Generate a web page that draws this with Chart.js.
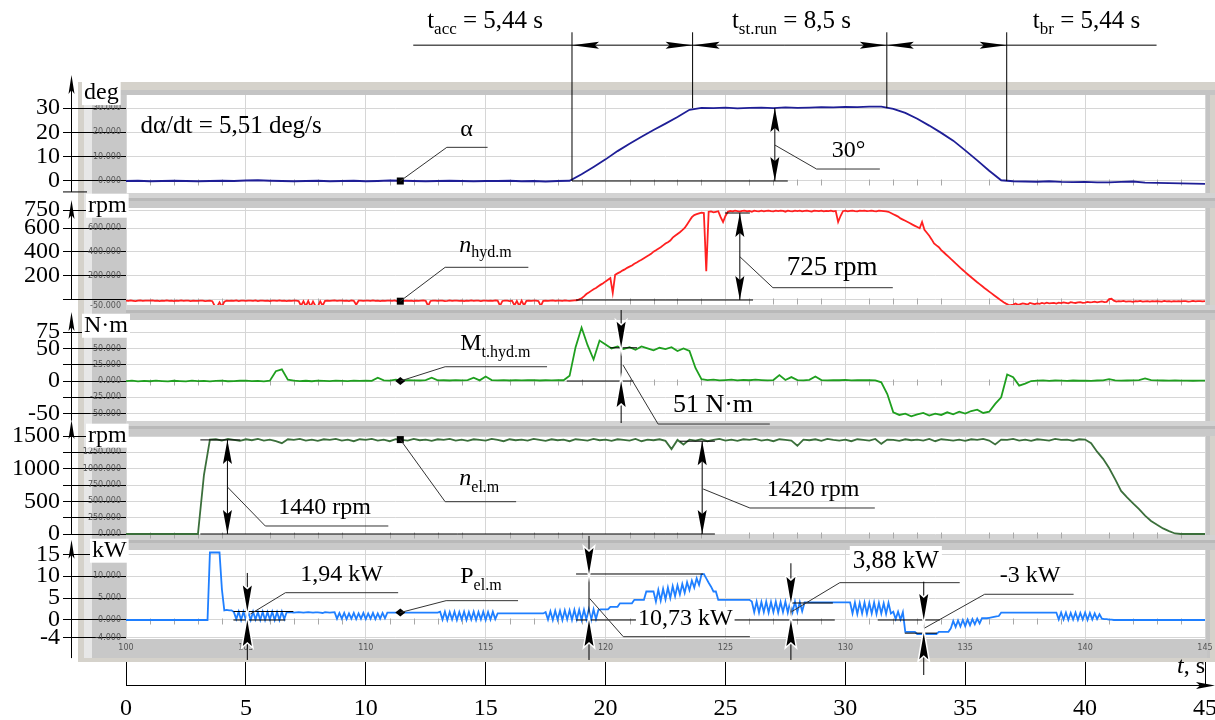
<!DOCTYPE html>
<html>
<head>
<meta charset="utf-8">
<script src="https://cdn.jsdelivr.net/npm/chart.js@4.4.1/dist/chart.umd.min.js"></script>
<style>
  html, body { margin: 0; padding: 0; background: #fff; }
  canvas { display: block; }
  .preload { position: absolute; left: -999px; top: 0; font-family: "Liberation Serif"; }
</style>
</head>
<body>
<span class="preload">0 <i>n</i></span>
<canvas id="chart" width="1215" height="720"></canvas>
<script>
const SERIF = '"Liberation Serif", "Times New Roman", serif';

// time axis
const xTicks = [0, 5, 10, 15, 20, 25, 30, 35, 40, 45];
const innerXLabels = ['100', '105', '110', '115', '120', '125', '130', '135', '140', '145'];

// alpha, deg, every 0.5 s
const alphaStep = 0.5;
const alphaVals = [
  0, 0.1, -0.1, 0, 0.1, 0, -0.1, 0, 0.1, 0,
  0.2, 0.3, 0.1, 0, -0.1, 0, 0.1, -0.1, 0, 0.1,
  -0.1, 0, 0.2, 0.1, 0, -0.1, 0, 0.1, 0, -0.1,
  0, 0, 0.1, -0.1, 0, -0.2, 0, 0.1, 2.8, 5.8,
  8.9, 12.3, 15.3, 18.2, 21.0, 23.6, 26.3, 29.3, 30.1, 30.0,
  30.2, 29.9, 30.1, 30.2, 30.0, 30.3, 30.1, 30.2, 30.4, 30.3,
  30.5, 30.4, 30.6, 30.6, 29.7, 28.0, 25.6, 22.8, 19.8, 16.6,
  12.6, 8.5, 4.2, 0.3, -0.1, -0.2, -0.3, -0.1, -0.4, -0.5,
  -0.4, -0.6, -0.6, -0.4, -0.2, -0.7, -0.8, -0.9, -1.0, -1.1,
  -1.2
];

// n hyd.m, rpm, every 0.1 s (one line per second)
const hydStep = 0.1;
const hydVals = [
  -5, -8, -4, -7, -10, -6, -3, -8, -5, -6,
  -6, -3, -8, -6, -9, -5, -7, -4, -8, -6,
  -9, -5, -7, -4, -8, -6, -5, -9, -6, -7,
  -8, -6, -5, -9, -7, -6, -10, -50, -56, -20,
  -55, -15, -6, -8, -5, -7, -4, -9, -6, -5,
  -8, -6, -5, -7, -4, -9, -6, -5, -8, -6,
  -10, -6, -5, -8, -4, -7, -6, -9, -5, -8,
  -6, -5, -9, -48, -10, -52, -8, -55, -12, -50,
  -55, -10, -48, -7, -5, -8, -6, -4, -7, -6,
  -5, -8, -6, -9, -4, -7, -40, -6, -5, -8,
  -6, -5, -8, -4, -7, -6, -9, -5, -8, -6,
  -5, -7, -4, -9, -25, -6, -8, -5, -7, -6,
  -9, -5, -8, -6, -4, -7, -50, -8, -5, -6,
  -8, -6, -5, -9, -7, -4, -8, -6, -5, -7,
  -6, -9, -5, -8, -4, -7, -6, -5, -9, -6,
  -5, -8, -6, -7, -4, -6, -48, -8, -5, -6,
  -9, -6, -45, -8, -50, -5, -46, -7, -6, -8,
  -5, -6, -9, -50, -7, -5, -8, -6, -4, -7,
  -6, -5, -8, -4, -6, -7, -5, -3, -2, 5,
  15, 30, 50, 62, 76, 90, 100, 115, 128, 140,
  155, 168, 182, 60, 210, 222, 232, 245, 255, 268,
  278, 288, 302, 312, 325, 335, 348, 360, 372, 385,
  403, 415, 428, 440, 455, 470, 482, 496, 520, 535,
  550, 565, 582, 600, 630, 660, 690, 708, 715, 722,
  728, 725, 240, 735, 738, 730, 735, 740, 690, 650,
  700, 735, 742, 738, 745, 740, 736, 742, 745, 738,
  742, 735, 745, 740, 738, 744, 739, 742, 745, 740,
  738, 744, 740, 745, 742, 736, 745, 740, 738, 744,
  740, 745, 738, 742, 745, 740, 736, 744, 742, 740,
  745, 738, 742, 740, 745, 738, 742, 650, 700, 740,
  744, 738, 742, 745, 740, 738, 744, 742, 745, 740,
  742, 745, 740, 738, 744, 742, 740, 738, 735, 725,
  715, 705, 695, 680, 670, 660, 650, 640, 628, 618,
  608, 598, 650, 585, 560, 535, 505, 472, 455, 440,
  416, 398, 379, 361, 342, 324, 305, 287, 268, 250,
  232, 215, 198, 181, 165, 148, 132, 116, 100, 85,
  70, 55, 40, 25, 10, -5, -18, -30, -40, -42,
  -38, -30, -40, -35, -28, -32, -38, -25, -30, -35,
  -28, -32, -25, -30, -22, -28, -26, -24, -30, -22,
  -26, -20, -24, -28, -18, -22, -25, -20, -18, -24,
  -22, -16, -20, -18, -14, -20, -16, -12, -18, -15,
  8, 10, -5, -14, -10, -12, -8, -14, -11, -12,
  -15, -10, -12, -8, -14, -11, -9, -13, -10, -12,
  -9, -11, -13, -8, -12, -10, -14, -9, -11, -10,
  -12, -10, -9, -13, -11, -8, -12, -10, -9, -12,
  -10
];

// M t.hyd.m, N*m, every 0.25 s (one line ~ 4 s)
const torqueStep = 0.25;
const torqueVals = [
  0, 0.5, -0.5, 0.3,   -0.3, 0.5, 0, -0.5,  0.4, 0, -0.4, 0.5,  0, 0.3, -0.5, 0.2,
  0.5, -0.3, 0, 0.4,   0.6, 0, 0.3, -0.4,   0.5, 15, 18, 2,     0.5, 0, 0.4, -0.3,
  0.5, 0.2, -0.2, 0.6, 0.3, 0, 0.5, 0.2,    0.6, 0.3, 5, 1,     0.5, 2, 0.8, 1.5,
  1, 0.8, 1.5, 5,      1, 1.2, 0.8, 1.5,    1, 1.4, 5, 1,       7, 1.5, 1, 1.3,
  0.8, 1.5, 1, 1.2,    1.5, 0.8, 1.2, 1,    1.4, 1.2, 8, 52,    82, 55, 33, 62,
  56, 50, 53, 49,      52, 48, 53, 50,      47, 51, 49, 52,     46, 50, 46, 20,
  3, 1.5, 2, 1,        1.5, 2, 1, 1.8,      1.2, 2, 1.5, 1,     1.5, 9, 1.5, 6,
  1.5, 1, 1.8, 7,      1.5, 1, 1.5, 1.2,    1.8, 1, 1.5, 1.2,   1.5, 1, -2, -20,
  -48, -52, -50, -54,  -51, -49, -53, -50,  -52, -48, -51, -47, -50, -46, -44, -49,
  -47, -35, -25, 10,   6, -7, -4, 0,        0.5, 1, 0.3, 0.8,   0.5, 0.2, 0.8, 0.4,
  0.6, 0.3, 0.8, 1,    3, 1, 0.5, 0.8,      1, 1.5, 4, 1.5,     1, 0.8, 0.5, 0.8,
  0.5, 0.7, 0.4, 0.6,
  0.5
];

// n el.m, rpm, every 0.25 s
const motorStep = 0.25;
const motorVals = [
  0, 0, 0, 0,  0, 0, 0, 0,  0, 0, 0, 0,  0, 900, 1445, 1450,
  1430, 1455, 1440, 1425, 1450, 1435, 1455, 1430, 1445, 1420, 1390, 1450, 1440, 1455, 1430, 1445,
  1425, 1450, 1440, 1455, 1430, 1445, 1420, 1450, 1440, 1455, 1430, 1445, 1420, 1450, 1440, 1430,
  1455, 1435, 1445, 1425, 1450, 1440, 1455, 1430, 1445, 1425, 1450, 1440, 1430, 1455, 1440, 1420,
  1450, 1435, 1445, 1430, 1455, 1440, 1425, 1450, 1435, 1445, 1420, 1450, 1440, 1430, 1455, 1435,
  1445, 1425, 1450, 1440, 1430, 1455, 1420, 1445, 1435, 1450, 1425, 1300, 1440, 1370, 1445, 1430,
  1450, 1420, 1440, 1455, 1430, 1445, 1425, 1450, 1440, 1455, 1430, 1445, 1420, 1450, 1440, 1430,
  1350, 1445, 1435, 1450, 1425, 1455, 1440, 1430, 1445, 1420, 1450, 1440, 1430, 1455, 1380, 1445,
  1440, 1425, 1450, 1435, 1445, 1430, 1455, 1420, 1450, 1440, 1430, 1445, 1425, 1450, 1440, 1455,
  1430, 1370, 1445, 1440, 1455, 1430, 1445, 1425, 1450, 1440, 1430, 1455, 1440, 1445, 1425, 1450,
  1445, 1390, 1260, 1150, 1010, 840, 660, 560, 470, 380, 280, 200, 140, 85, 45, 8,
  0, 0, 0, 0,
  0
];

// P el.m, kW, every 0.1 s (one line per second)
const powerStep = 0.1;
const powerVals = [
  0, 0, 0, 0, 0, 0, 0, 0, 0, 0,
  0, 0, 0, 0, 0, 0, 0, 0, 0, 0,
  0, 0, 0, 0, 0, 0, 0, 0, 0, 0,
  0, 0, 0, 0, 0, 15.4, 15.4, 15.4, 15.4, 15.4,
  7, 2.2, 2.3, 2.2, 2.2, 1.8, 0.2, 1.9, 0, 1.9,
  0, 1.8, 0, 1.9, 0.1, 1.8, 0, 1.9, 0, 1.8,
  0.1, 1.9, 0, 1.8, 0, 1.9, 0.2, 1.75, 1.75, 1.75,
  1.7, 1.75, 1.8, 1.75, 1.7, 1.75, 1.8, 1.75, 1.7, 1.75,
  1.75, 1.7, 1.6, 1.8, 1.75, 1.7, 1.75, 1.8, 0.3, 1.6,
  0.3, 1.6, 0.2, 1.5, 0.3, 1.6, 0.2, 1.5, 0.3, 1.6,
  0.2, 1.5, 0.3, 1.6, 0.2, 1.5, 0.3, 1.6, 0.4, 1.7,
  1.7, 1.7, 1.7, 1.7, 1.7, 1.7, 1.7, 1.7, 1.7, 1.7,
  1.7, 1.7, 1.7, 1.7, 1.7, 1.7, 1.7, 1.7, 1.7, 1.7,
  1.7, 1.9, 0.1, 1.9, 0, 1.8, 0.1, 1.9, 0, 1.8,
  0.1, 1.9, 0, 1.8, 0.1, 1.9, 0, 1.8, 0.1, 1.9,
  0, 1.8, 0.1, 1.9, 0.2, 1.5, 1.5, 1.5, 1.5, 1.5,
  1.5, 1.5, 1.5, 1.5, 1.5, 1.5, 1.5, 1.5, 1.5, 1.5,
  1.5, 1.5, 1.5, 1.5, 1.5, 1.8, 0.1, 2.0, 0, 2.1,
  0.1, 2.1, 0, 2.2, 0.1, 2.2, 0, 2.3, 0.1, 2.3,
  0, 2.3, 0.1, 2.4, 0, 2.4, 0.2, 2.3, 2.4, 2.4,
  2.4, 2.4, 3.0, 3.0, 3.0, 3.0, 3.8, 3.8, 3.8, 3.8,
  3.8, 3.8, 4.6, 4.6, 4.6, 4.6, 4.6, 6.5, 6.5, 6.5,
  6.5, 4.2, 6.9, 4.4, 7.1, 4.7, 7.4, 5.0, 7.7, 5.4,
  7.9, 5.8, 8.2, 6.2, 8.6, 6.8, 9.0, 7.4, 9.5, 8.0,
  10.4, 10.5, 9.5, 8.5, 7.6, 6.5, 6.5, 4.6, 4.6, 4.6,
  4.6, 4.6, 4.6, 4.6, 4.6, 4.6, 4.6, 4.6, 4.6, 4.6,
  4.6, 4.2, 1.8, 4.2, 1.7, 4.1, 1.8, 4.2, 1.7, 4.1,
  1.8, 4.2, 1.7, 4.1, 1.8, 4.2, 1.7, 4.1, 1.8, 4.2,
  1.8, 4.1, 2.0, 4.0, 4.0, 4.0, 4.0, 4.0, 4.0, 4.0,
  4.0, 4.0, 4.0, 4.0, 4.0, 4.0, 4.0, 4.0, 4.0, 4.0,
  4.0, 4.0, 4.0, 1.5, 4.0, 1.4, 3.9, 1.5, 4.0, 1.4,
  3.9, 1.5, 4.0, 1.4, 3.9, 1.5, 3.8, 1.4, 3.9, 1.5,
  1.9, 0.2, 1.9, 0.1, 1.8, -2.7, -2.7, -2.7, -2.7, -2.7,
  -3.2, -3.2, -3.2, -3.2, -3.2, -3.2, -3.2, -3.2, -3.2, -2.7,
  -2.7, -2.7, -2.7, -2.7, -1.9, -0.2, -1.6, -0.1, -1.5, 0,
  -1.4, 0.1, -1.2, 0.2, -1.0, 0.3, -0.8, 0.4, 0.4, 0.4,
  0.5, 0.6, 0.7, 0.8, 0.9, 1.7, 1.7, 1.7, 1.7, 1.7,
  1.7, 1.7, 1.7, 1.7, 1.7, 1.7, 1.7, 1.7, 1.7, 1.7,
  1.7, 1.7, 1.7, 1.7, 1.7, 1.7, 1.7, 1.7, 1.7, 0.1,
  1.7, 0.1, 1.7, 0, 1.6, 0.1, 1.7, 0, 1.6, 0.1,
  1.7, 0, 1.6, 0.1, 1.5, 0.2, 1.3, 0.3, 0.2, 0.2,
  0.1, 0.1, 0, 0, 0, 0, 0, 0, 0, 0,
  0, 0, 0, 0, 0, 0, 0, 0, 0, 0,
  0, 0, 0, 0, 0, 0, 0, 0, 0, 0,
  0, 0, 0, 0, 0, 0, 0, 0, 0, 0,
  0
];

// outer tick values / labelled values per panel
const alphaTicks = [0, 10, 20, 30];
const alphaLabels = [0, 10, 20, 30];
const hydTicks = [0, 200, 400, 600, 750];
const hydLabels = [200, 400, 600, 750];
const torqueTicks = [-50, -25, 0, 25, 50, 75];
const torqueLabels = [-50, 0, 50, 75];
const motorTicks = [0, 250, 500, 750, 1000, 1250, 1500];
const motorLabels = [0, 500, 1000, 1500];
const powerTicks = [-4, 0, 5, 10, 15];
const powerLabels = [-4, 0, 5, 10, 15];

// small grey recorder labels in the frame
const innerY = {
  y1: [30, 20, 10, 0],
  y2: [600, 400, 200, -50],
  y3: [50, 25, 0, -25, -50],
  y4: [1250, 1000, 750, 500, 250, 0],
  y5: [10, 5, 0, -4]
};

function toPoints(vals, step) {
  return vals.map((v, i) => ({ x: Math.round(i * step * 100) / 100, y: v }));
}

const panels = [
  { id: 'y1', min: -4.94, max: 40.74, h: 111, ticks: alphaTicks, labels: alphaLabels },
  { id: 'y2', min: -41.7, max: 891.7, h: 112, ticks: hydTicks, labels: hydLabels },
  { id: 'y3', min: -61.3, max: 116.6, h: 116, ticks: torqueTicks, labels: torqueLabels },
  { id: 'y4', min: -15.3, max: 1729.6, h: 114, ticks: motorTicks, labels: motorLabels },
  { id: 'y5', min: -4.34, max: 19.4, h: 104, ticks: powerTicks, labels: powerLabels }
];

const scales = {
  x: {
    type: 'linear', min: 0, max: 45,
    afterFit: s => { s.height = 81; s.paddingLeft = 0; s.paddingRight = 0; },
    afterBuildTicks: s => { s.ticks = xTicks.map(v => ({ value: v })); },
    grid: { color: '#d6d6d6', tickColor: '#000', tickLength: 46 },
    border: { display: false },
    ticks: {
      autoSkip: false, maxRotation: 0, padding: 9, color: '#000',
      font: { family: SERIF, size: 24 }
    }
  }
};
panels.forEach((p, k) => {
  scales[p.id] = {
    type: 'linear', position: 'left', stack: 'panels', stackWeight: p.h, weight: 5 - k,
    min: p.min, max: p.max,
    afterFit: s => { s.width = 126; s.paddingTop = 0; s.paddingBottom = 0; },
    afterBuildTicks: s => { s.ticks = p.ticks.map(v => ({ value: v })); },
    grid: { color: '#d6d6d6', tickColor: '#000', tickLength: 63 },
    border: { display: false },
    ticks: {
      autoSkip: false, padding: 3, color: '#000',
      font: { family: SERIF, size: 24 },
      callback: v => p.labels.includes(v) ? String(v) : ''
    }
  };
});

function seg(c, pts) {
  c.beginPath();
  pts.forEach((p, i) => i ? c.lineTo(p[0], p[1]) : c.moveTo(p[0], p[1]));
  c.stroke();
}

function arrow(c, x, y, dir, len, hw, halo) {
  c.beginPath();
  c.moveTo(x, y);
  if (dir === 'up') { c.lineTo(x - hw, y + len); c.lineTo(x, y + len - 4); c.lineTo(x + hw, y + len); }
  else if (dir === 'down') { c.lineTo(x - hw, y - len); c.lineTo(x, y - len + 4); c.lineTo(x + hw, y - len); }
  else if (dir === 'left') { c.lineTo(x + len, y - hw); c.lineTo(x + len - 4, y); c.lineTo(x + len, y + hw); }
  else { c.lineTo(x - len, y - hw); c.lineTo(x - len + 4, y); c.lineTo(x - len, y + hw); }
  c.closePath();
  if (halo) { c.save(); c.strokeStyle = '#fff'; c.lineWidth = 3; c.stroke(); c.restore(); }
  c.fill();
}

function rich(c, x, y, parts, box) {
  let w = 0;
  parts.forEach(p => {
    c.font = (p.i ? 'italic ' : '') + (p.s || 24) + 'px ' + SERIF;
    w += c.measureText(p.t).width;
  });
  if (box) {
    c.save(); c.fillStyle = '#fff';
    c.fillRect(x - box[0], y - box[1], w + 2 * box[0], box[1] + box[2]);
    c.restore();
  }
  let cx = x;
  parts.forEach(p => {
    c.font = (p.i ? 'italic ' : '') + (p.s || 24) + 'px ' + SERIF;
    c.fillText(p.t, cx, y + (p.dy || 0));
    cx += c.measureText(p.t).width;
  });
}

const frame = {
  id: 'frame',
  beforeDraw(chart) {
    const c = chart.ctx;
    c.save();
    c.fillStyle = '#fff'; c.fillRect(0, 0, chart.width, chart.height);
    c.fillStyle = '#d5d2cb'; c.fillRect(78, 82, 14, 580);
    c.fillStyle = '#e7e7e7'; c.fillRect(84, 82, 8, 576);
    c.fillStyle = '#c8c8c8'; c.fillRect(92, 95, 34, 563);
    c.fillStyle = '#c4c4c4'; c.fillRect(1205, 82, 5, 580);
    c.fillStyle = '#d5d2cb'; c.fillRect(1210, 82, 5, 580);
    c.restore();
  },
  beforeDatasetsDraw(chart) {
    const c = chart.ctx, a = chart.chartArea;
    c.save();
    c.fillStyle = '#d5d2cb'; c.fillRect(120, 82, 1095, 8);
    c.fillStyle = '#c4c4c4'; c.fillRect(120, 90, 1095, 5);
    ['y2', 'y3', 'y4', 'y5'].forEach(id => {
      const top = Math.round(chart.scales[id].top);
      c.fillStyle = '#d3d3d3'; c.fillRect(a.left, top, 1215 - a.left, 15);
      c.fillStyle = '#b9b9b9'; c.fillRect(a.left, top + 5, 1215 - a.left, 3);
      c.fillStyle = '#c9c9c9'; c.fillRect(a.left, top + 8, 1215 - a.left, 7);
    });
    c.fillStyle = '#c8c8c8'; c.fillRect(92, a.bottom, 1115, 19);
    c.fillStyle = '#d5d2cb'; c.fillRect(78, a.bottom + 19, 1137, 4);
    // minor second ticks on the zero lines
    c.strokeStyle = '#a8a8a8'; c.lineWidth = 1;
    const xs = chart.scales.x;
    ['y1', 'y2', 'y3', 'y4', 'y5'].forEach(id => {
      const y0 = Math.round(chart.scales[id].getPixelForValue(0)) + 0.5;
      for (let t = 1; t < 45; t++) {
        if (t % 5 === 0) continue;
        const x = Math.round(xs.getPixelForValue(t)) + 0.5;
        seg(c, [[x, y0 - 2], [x, y0 + 4]]);
      }
    });
    c.restore();
  },
  afterDraw(chart) {
    const c = chart.ctx, a = chart.chartArea;
    const X = t => chart.scales.x.getPixelForValue(t);
    const Y = (id, v) => chart.scales[id].getPixelForValue(v);
    c.save();

    // grey recorder labels
    c.fillStyle = '#555'; c.font = '8px "DejaVu Sans", sans-serif';
    c.textAlign = 'right'; c.textBaseline = 'middle';
    Object.keys(innerY).forEach(id => innerY[id].forEach(v => c.fillText(v.toFixed(3), 121, Y(id, v))));
    c.textAlign = 'center';
    xTicks.forEach((t, i) => c.fillText(innerXLabels[i], X(t), a.bottom + 9));
    c.textAlign = 'left'; c.textBaseline = 'alphabetic';

    c.strokeStyle = '#000'; c.fillStyle = '#000'; c.lineWidth = 1;

    // outer y axes with arrows
    const axes = [['y1', 43.6, -4.5], ['y2', 833, 0], ['y3', 106, -60.7], ['y4', 1745, 0], ['y5', 18.3, -8.7]];
    axes.forEach(([id, top, bot]) => {
      seg(c, [[71.5, Y(id, top) + 6], [71.5, Y(id, bot)]]);
      arrow(c, 71.5, Y(id, top), 'up', 19, 3);
    });
    seg(c, [[63, Y('y1', -4.5)], [87, Y('y1', -4.5)]]);

    // unit labels
    const units = [['y1', 84, 33.7, 'deg'], ['y2', 88, 736, 'rpm'], ['y3', 84, 75.6, 'N·m'], ['y4', 88, 1413, 'rpm'], ['y5', 92, 14.45, 'kW']];
    units.forEach(([id, x, v, t]) => rich(c, x, Y(id, v), [{ t }], [2, 18, 6]));

    // bottom time axis
    const yb = a.bottom + 46.5;
    seg(c, [[a.left, yb], [1206, yb]]);
    arrow(c, 1215, yb, 'right', 19, 3.5);
    rich(c, 1177, 673, [{ t: 't', i: true }, { t: ', s' }]);

    // top dimension chain
    const dimY = Y('y1', 55.9);
    seg(c, [[X(11.98), dimY], [X(42.98), dimY]]);
    const marks = [[18.6, 0], [23.63, 30], [31.73, 30], [36.73, 0]];
    marks.forEach(([t, v]) => seg(c, [[X(t), Y('y1', 61.2)], [X(t), Y('y1', v)]]));
    for (let i = 0; i < 3; i++) {
      arrow(c, X(marks[i][0]), dimY, 'left', 27, 3.5);
      arrow(c, X(marks[i + 1][0]), dimY, 'right', 27, 3.5);
    }
    const ty = Y('y1', 62.9);
    rich(c, X(12.56), ty, [{ t: 't', s: 25 }, { t: 'acc', s: 17, dy: 6 }, { t: ' = 5,44 s', s: 25 }]);
    rich(c, X(25.27), ty, [{ t: 't', s: 25 }, { t: 'st.run', s: 17, dy: 6 }, { t: ' = 8,5 s', s: 25 }]);
    rich(c, X(37.82), ty, [{ t: 't', s: 25 }, { t: 'br', s: 17, dy: 6 }, { t: ' = 5,44 s', s: 25 }]);

    const hline = (id, v, t1, t2) => seg(c, [[X(t1), Y(id, v)], [X(t2), Y(id, v)]]);
    const leader = (id, pts) => {
      c.save(); c.strokeStyle = '#333';
      seg(c, pts.map(([t, v]) => [X(t), Y(id, v)]));
      c.restore();
    };
    const outDim = (id, t, v1, v2) => {
      const x = X(t);
      seg(c, [[x, Y(id, v1)], [x, Y(id, v2)]]);
      arrow(c, x, Y(id, v1), 'up', 24, 4.5);
      arrow(c, x, Y(id, v2), 'down', 24, 4.5);
    };
    const inDim = (id, t, vTop, vBot, tipDown, tipUp) => {
      const x = X(t);
      seg(c, [[x, Y(id, vTop)], [x, Y(id, vBot)]]);
      arrow(c, x, Y(id, tipDown), 'down', 26, 4.5, true);
      arrow(c, x, Y(id, tipUp), 'up', 26, 4.5, true);
    };
    const square = (id, t, v) => c.fillRect(X(t) - 3.5, Y(id, v) - 3.5, 7, 7);
    const diamond = (id, t, v) => {
      const x = X(t), y = Y(id, v);
      c.beginPath(); c.moveTo(x - 5, y); c.lineTo(x, y - 4); c.lineTo(x + 5, y); c.lineTo(x, y + 4); c.closePath(); c.fill();
    };

    // panel 1
    rich(c, X(0.6), Y('y1', 19.7), [{ t: 'dα/dt = 5,51 deg/s', s: 25 }]);
    square('y1', 11.44, 0);
    leader('y1', [[11.44, 0], [13.38, 13.85], [15.08, 13.85]]);
    rich(c, X(13.94), Y('y1', 18.5), [{ t: 'α' }]);
    hline('y1', 0, 18.6, 27.6);
    outDim('y1', 27.06, 30, 0);
    leader('y1', [[27.06, 14.8], [28.8, 4.93], [31.44, 4.93]]);
    rich(c, X(29.43), Y('y1', 10), [{ t: '30°' }]);

    // panel 2
    square('y2', 11.44, -10);
    leader('y2', [[11.44, -10], [13.31, 272.5], [16.78, 272.5]]);
    rich(c, X(13.9), Y('y2', 402.5), [{ t: 'n', i: true }, { t: 'hyd.m', s: 16, dy: 5 }]);
    hline('y2', 725, 24.98, 26.02);
    hline('y2', 0, 18.77, 26.15);
    outDim('y2', 25.6, 725, 0);
    leader('y2', [[25.6, 360.8], [26.98, 102.5], [31.98, 102.5]]);
    rich(c, X(27.56), Y('y2', 208), [{ t: '725 rpm', s: 27 }]);

    // panel 3
    diamond('y3', 11.44, 0);
    leader('y3', [[11.44, 0], [13.31, 21.9], [17.56, 21.9]]);
    rich(c, X(13.94), Y('y3', 47.5), [{ t: 'M' }, { t: 't.hyd.m', s: 16, dy: 7 }]);
    hline('y3', 51, 20.19, 21.31);
    hline('y3', 0, 18.38, 21.16);
    inDim('y3', 20.65, 108.9, -64.4, 51, 0);
    leader('y3', [[20.73, 24.5], [22.19, -65.95], [26.85, -65.95]]);
    rich(c, X(22.81), Y('y3', -47.1), [{ t: '51 N·m', s: 26 }]);

    // panel 4
    square('y4', 11.44, 1445);
    leader('y4', [[11.44, 1445], [13.31, 494.4], [16.27, 494.4]]);
    rich(c, X(13.9), Y('y4', 750), [{ t: 'n', i: true }, { t: 'el.m', s: 16, dy: 7 }]);
    hline('y4', 1440, 3.1, 4.77);
    hline('y4', 1420, 23.1, 24.56);
    hline('y4', 0, 3.1, 24.56);
    outDim('y4', 4.23, 1440, 0);
    outDim('y4', 24.03, 1420, 0);
    leader('y4', [[4.23, 719.4], [5.81, 122.5], [10.94, 122.5]]);
    leader('y4', [[24.07, 688.8], [26.02, 398], [31.23, 398]]);
    rich(c, X(6.35), Y('y4', 306), [{ t: '1440 rpm' }]);
    rich(c, X(26.72), Y('y4', 581.7), [{ t: '1420 rpm' }]);

    // panel 5
    hline('y5', 1.94, 4.48, 6.98);
    hline('y5', 0, 4.48, 6.65);
    inDim('y5', 5.06, 10.73, -9.13, 1.94, 0);
    leader('y5', [[5.19, 1.37], [6.65, 6.23], [11.35, 6.23]]);
    rich(c, X(7.27), Y('y5', 8.97), [{ t: '1,94 kW' }]);

    diamond('y5', 11.44, 1.7);
    leader('y5', [[11.44, 1.7], [13.35, 4.41], [16.35, 4.41]]);
    rich(c, X(13.94), Y('y5', 8.38), [{ t: 'P' }, { t: 'el.m', s: 16, dy: 7 }]);

    hline('y5', 10.5, 18.77, 24.06);
    hline('y5', 0, 18.77, 29.56);
    inDim('y5', 19.31, 19.18, -9.13, 10.5, 0);
    leader('y5', [[19.33, 4.95], [20.74, -3.81], [26.02, -3.81]]);
    rich(c, X(21.35), Y('y5', -1.14), [{ t: '10,73 kW' }], [2, 18, 3]);

    hline('y5', 3.88, 27.69, 29.48);
    inDim('y5', 27.73, 12.95, -9.13, 3.88, 0);
    leader('y5', [[27.76, 1.9], [29.77, 8.52], [34.77, 8.52]]);
    rich(c, X(30.31), Y('y5', 11.87), [{ t: '3,88 kW', s: 25 }], [3, 22, 4]);

    hline('y5', 0, 31.35, 33.94);
    hline('y5', -3, 32.48, 33.82);
    inDim('y5', 33.27, 8.74, -12.56, 0, -3);
    leader('y5', [[33.31, -1.83], [35.81, 5.87], [39.52, 5.87]]);
    rich(c, X(36.44), Y('y5', 8.74), [{ t: '-3 kW' }]);

    c.restore();
  }
};

const lineStyle = { pointRadius: 0, borderWidth: 1.8, tension: 0, fill: false };

const chart = new Chart(document.getElementById('chart'), {
  type: 'line',
  data: {
    datasets: [
      { ...lineStyle, label: 'α', data: toPoints(alphaVals, alphaStep), yAxisID: 'y1', borderColor: '#1e1e96' },
      { ...lineStyle, label: 'n hyd.m', data: toPoints(hydVals, hydStep), yAxisID: 'y2', borderColor: '#ff2020' },
      { ...lineStyle, label: 'M t.hyd.m', data: toPoints(torqueVals, torqueStep), yAxisID: 'y3', borderColor: '#1f9f1f' },
      { ...lineStyle, label: 'n el.m', data: toPoints(motorVals, motorStep), yAxisID: 'y4', borderColor: '#3b6f3b' },
      { ...lineStyle, label: 'P el.m', data: toPoints(powerVals, powerStep), yAxisID: 'y5', borderColor: '#1f7fff' }
    ]
  },
  options: {
    responsive: false,
    animation: false,
    events: [],
    layout: { padding: { top: 82, right: 10, bottom: 0, left: 0 } },
    plugins: { legend: { display: false }, tooltip: { enabled: false } },
    scales
  },
  plugins: [frame]
});

if (document.fonts && document.fonts.ready) {
  document.fonts.ready.then(() => chart.update());
}
</script>
</body>
</html>
